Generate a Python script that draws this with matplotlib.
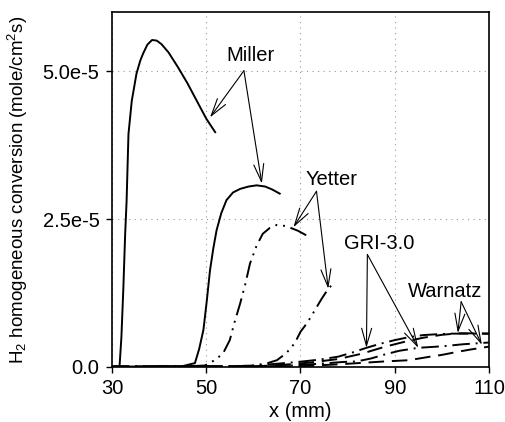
import numpy as np
import matplotlib
matplotlib.use("Agg")
import matplotlib.pyplot as plt

plt.rcParams['font.family'] = ['Liberation Sans', 'DejaVu Sans']
plt.rcParams['mathtext.default'] = 'regular'

# values, y in units of 1e-5 mole/cm^2 s
miller1_x = [30, 31.6, 32.0, 32.4, 32.8, 33.1, 33.5, 34.2, 35.2, 36.0, 36.6, 37.5, 38.5, 39.5, 40.5, 42, 44, 46, 48, 50, 51.9]
miller1_y = [0, 0, 0.5, 1.3, 2.25, 2.8, 3.94, 4.5, 4.96, 5.18, 5.3, 5.45, 5.53, 5.52, 5.46, 5.32, 5.07, 4.8, 4.5, 4.2, 3.97]

miller2_x = [30, 45, 47, 47.6, 48.5, 49.4, 50.1, 50.8, 51.5, 52.2, 53.2, 54.3, 55.7, 57.2, 59, 60.7, 62.5, 64, 65.6]
miller2_y = [0, 0.01, 0.05, 0.06, 0.3, 0.62, 1.1, 1.63, 2.0, 2.31, 2.6, 2.82, 2.95, 3.01, 3.05, 3.07, 3.05, 3.0, 2.93]

yetter1_x = [30, 45, 49.7, 52, 53.6, 55, 56, 57.2, 58.3, 59.3, 60.7, 62, 63.5, 65, 67, 69.5, 71.8]
yetter1_y = [0, 0.005, 0.02, 0.12, 0.23, 0.45, 0.75, 1.07, 1.4, 1.75, 2.05, 2.25, 2.35, 2.4, 2.38, 2.3, 2.2]

yetter2_x = [30, 55, 60, 63, 65, 67, 68.8, 70, 71.5, 73, 74.5, 75.9, 77]
yetter2_y = [0, 0.005, 0.02, 0.06, 0.11, 0.23, 0.4, 0.59, 0.75, 0.95, 1.15, 1.32, 1.41]

gri1_x = [30, 55, 60, 65, 70, 74, 78, 81, 84, 87, 90, 93, 96, 99, 102, 106, 110]
gri1_y = [0, 0.005, 0.02, 0.05, 0.085, 0.12, 0.17, 0.24, 0.32, 0.39, 0.45, 0.5, 0.535, 0.55, 0.56, 0.56, 0.56]

gri2_x = [30, 62, 68, 74, 79, 82, 85, 88, 91, 95, 100, 104.5, 110]
gri2_y = [0, 0.005, 0.02, 0.05, 0.08, 0.09, 0.14, 0.21, 0.27, 0.32, 0.345, 0.38, 0.41]

warnatz1_x = [30, 60, 66, 72, 78, 83, 88, 92, 96, 100, 103.4, 107, 110]
warnatz1_y = [0, 0.005, 0.03, 0.07, 0.13, 0.22, 0.34, 0.42, 0.49, 0.54, 0.565, 0.565, 0.56]

warnatz2_x = [30, 70, 78, 84, 88, 93, 97.5, 100, 103.2, 106, 110]
warnatz2_y = [0, 0.01, 0.04, 0.07, 0.09, 0.11, 0.17, 0.2, 0.25, 0.29, 0.34]

xticks = [30, 50, 70, 90, 110]
yticks = [0, 2.5, 5.0]
ytick_labels = ["0.0", "2.5e-5", "5.0e-5"]

fig = plt.figure(figsize=(5.06, 4.22), dpi=100)
ax = fig.add_axes([0.2213, 0.131, 0.745, 0.840])

s = 1e-5
ax.plot(miller1_x, np.array(miller1_y)*s, color="black", lw=1.4)
ax.plot(miller2_x, np.array(miller2_y)*s, color="black", lw=1.4)
ax.plot(yetter1_x, np.array(yetter1_y)*s, color="black", lw=1.4, dashes=(9, 3, 1, 3, 1, 3))
ax.plot(yetter2_x, np.array(yetter2_y)*s, color="black", lw=1.4, dashes=(9, 3, 1, 3, 1, 3))
ax.plot(gri1_x, np.array(gri1_y)*s, color="black", lw=1.4, dashes=(9, 3, 1, 3))
ax.plot(gri2_x, np.array(gri2_y)*s, color="black", lw=1.4, dashes=(9, 3, 1, 3))
ax.plot(warnatz1_x, np.array(warnatz1_y)*s, color="black", lw=1.4, dashes=(8, 4))
ax.plot(warnatz2_x, np.array(warnatz2_y)*s, color="black", lw=1.4, dashes=(8, 4))

ax.set_xlim(30, 110)
ax.set_ylim(0, 6e-5)
ax.set_xticks(xticks)
ax.set_yticks(np.array(yticks)*s)
ax.set_yticklabels(ytick_labels)
ax.tick_params(direction="out", length=4, labelsize=14.5, width=1, pad=5)
ax.grid(True, color="#999999", linestyle=(0, (1, 4)), linewidth=0.8)
for sp in ax.spines.values():
    sp.set_linewidth(1.2)

ax.set_xlabel("x (mm)", fontsize=14.5, labelpad=3)
ax.set_ylabel(r"H$_2$ homogeneous conversion (mole/cm$^2$s)", fontsize=13.5, labelpad=9)

# labels with arrows pointing at the curves
arr = dict(arrowstyle="->, head_length=0.7, head_width=0.2", color="black", lw=0.8,
           mutation_scale=18, shrinkA=0, shrinkB=0)
ax.text(59.5, 5.27e-5, "Miller", fontsize=14.5, ha="center", va="center")
ax.annotate("", xy=(50.8, 4.22e-5), xytext=(58, 5.01e-5), arrowprops=arr)
ax.annotate("", xy=(61.8, 3.1e-5), xytext=(58, 5.01e-5), arrowprops=arr)

ax.text(76.6, 3.17e-5, "Yetter", fontsize=14.5, ha="center", va="center")
ax.annotate("", xy=(68.5, 2.36e-5), xytext=(73.4, 2.97e-5), arrowprops=arr)
ax.annotate("", xy=(75.9, 1.32e-5), xytext=(73.4, 2.97e-5), arrowprops=arr)

ax.text(86.7, 2.09e-5, "GRI-3.0", fontsize=14.5, ha="center", va="center")
ax.annotate("", xy=(84, 0.32e-5), xytext=(84.2, 1.9e-5), arrowprops=arr)
ax.annotate("", xy=(95, 0.32e-5), xytext=(84.2, 1.9e-5), arrowprops=arr)

ax.text(100.7, 1.27e-5, "Warnatz", fontsize=14.5, ha="center", va="center")
ax.annotate("", xy=(103.4, 0.57e-5), xytext=(104.1, 1.1e-5), arrowprops=arr)
ax.annotate("", xy=(108.5, 0.37e-5), xytext=(104.1, 1.1e-5), arrowprops=arr)

plt.savefig("out.png", dpi=100)
